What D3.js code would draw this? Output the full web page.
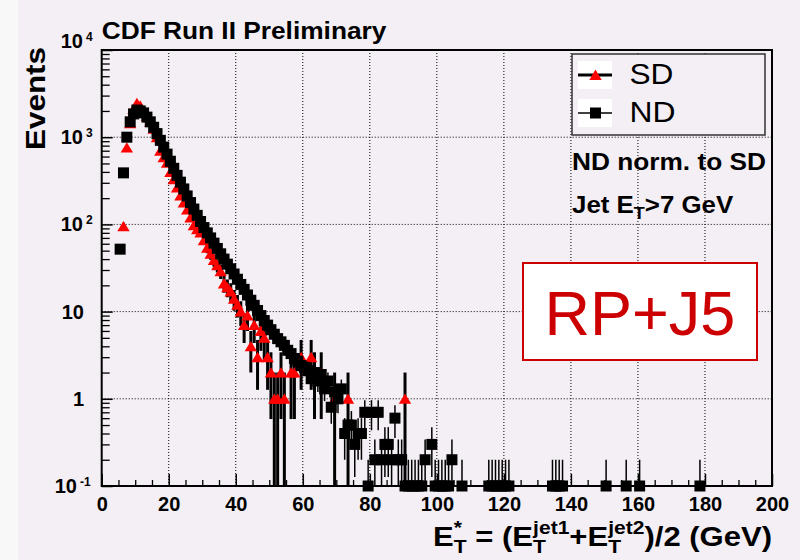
<!DOCTYPE html>
<html><head><meta charset="utf-8">
<script src="https://cdn.jsdelivr.net/npm/d3@7/dist/d3.min.js"></script>
<style>
html,body{margin:0;padding:0;background:#f4eff4;}
svg{display:block;}
text{font-family:"Liberation Sans",Arial,Helvetica,sans-serif;}
</style></head><body>
<svg id="c" width="800" height="560"></svg>
<script>
// ---------------- data (1 GeV bins, low edge) ----------------
const ndBinLow = [5,6,7,8,9,10,11,12,13,14,15,16,17,18,19,20,21,22,23,24,25,26,27,28,29,30,31,32,33,34,35,36,37,38,39,40,41,42,43,44,45,46,47,48,49,50,51,52,53,54,55,56,57,58,59,60,61,62,63,64,65,66,67,68,69,70,71,72,73,74,75,76,77,78,79,80,81,82,83,84,85,86,87,88,89,90,91,92,93,94,95,96,98,99,100,101,102,103,104,107,115,116,117,118,119,120,121,134,135,136,137,150,156,160,178];
const ndValues = [52,390,1000,1500,1850,2050,2000,1900,1700,1500,1300,1100,920,770,640,530,440,365,305,255,212,178,150,127,108,92,80,70,61,53,46,40,35,31,27,23.5,20.5,18,15.5,13.5,11.8,10.3,9,7.9,7,6.2,5.5,4.9,4.5,4.1,3.6,3.3,2.9,2.7,2.4,2.3,2.1,1.7,2.0,1.6,1.9,1.3,1.6,0.8,1.2,1.0,1.3,0.4,0.5,0.5,0.3,0.4,0.4,0.7,0.1,0.7,0.2,0.7,0.2,0.3,0.3,0.2,0.6,0.2,0.2,0.1,0.1,0.1,0.1,0.1,0.1,0.2,0.3,0.1,0.1,0.1,0.1,0.1,0.2,0.1,0.1,0.1,0.1,0.1,0.1,0.1,0.1,0.1,0.1,0.1,0.1,0.1,0.1,0.1,0.1];
const ndWeight = 0.1; // ND events are scaled to SD: one ND event = 0.1

const sdBinLow = [6,7,8,9,10,11,12,13,14,15,16,17,18,19,20,21,22,23,24,25,26,27,28,29,30,31,32,33,34,35,36,37,38,39,40,41,42,43,44,45,46,47,48,49,50,51,52,53,54,56,57,59,62,63,65,69,73,90];
const sdValues = [95,760,1450,2100,2450,2300,1950,1750,1500,1250,1000,700,590,510,400,330,265,215,178,148,120,98,88,81,66,54,46,39,34,29,21,19,17,14,12,10,7,9,4,7,3,6,5,3,2,1,1,2,1,2,2,3,3,2,2,1,1,1];

const xDomain = [0,200];
const yDomain = [0.1,10000];
const xTickValues = [0,20,40,60,80,100,120,140,160,180,200];
const yTickValues = [0.1,1,10,100,1000,10000];
const yTickBase = ["10","1","10","10","10","10"];
const yTickExp  = ["-1","","","2","3","4"];
const legendLabels = ["SD","ND"];
const titleText = "CDF Run II Preliminary";
const yTitle = "Events";
const noteLine1 = "ND norm. to SD";
const tagText = "RP+J5";

// ---------------- layout ----------------
const W = 800, H = 560;
const m = {l:101.7, r:772, t:50, b:486};
const FONT = "Liberation Sans, Arial, Helvetica, sans-serif";
const x = d3.scaleLinear().domain(xDomain).range([m.l, m.r]);
const y = d3.scaleLog().domain(yDomain).range([m.b, m.t]);

const svg = d3.select("#c");
svg.append("rect").attr("width",W).attr("height",H).attr("fill","#f4eff4");
svg.append("rect").attr("width",18).attr("height",H).attr("fill","#f9f8f9");

svg.append("defs").append("clipPath").attr("id","plotclip")
  .append("rect").attr("x",m.l).attr("y",m.t).attr("width",m.r-m.l).attr("height",m.b-m.t);

// grid
const grid = svg.append("g").attr("stroke","#000").attr("stroke-width",1).attr("stroke-dasharray","1,2");
grid.selectAll("line.gx").data(xTickValues.filter(v=>v>xDomain[0]&&v<xDomain[1])).join("line").attr("class","gx")
  .attr("x1",d=>x(d)).attr("x2",d=>x(d)).attr("y1",m.t).attr("y2",m.b);
grid.selectAll("line.gy").data(yTickValues.filter(v=>v>yDomain[0]&&v<yDomain[1])).join("line").attr("class","gy")
  .attr("y1",d=>y(d)).attr("y2",d=>y(d)).attr("x1",m.l).attr("x2",m.r);

// helper for stretched text
function fitGroup(parent, tx, ty, rot, target){
  const outer = parent.append("g").attr("transform",`translate(${tx},${ty})${rot?` rotate(${rot})`:""}`);
  const inner = outer.append("g");
  return {inner, fit(){ const w = inner.node().getBBox().width; if(w>0) inner.attr("transform",`scale(${target/w},1)`); }};
}

// ---------------- data ----------------
const sd = sdBinLow.map((b,i)=>({c:b+0.5, v:sdValues[i], e:Math.sqrt(sdValues[i])}));
const nd = ndBinLow.map((b,i)=>({c:b+0.5, v:ndValues[i], e:Math.sqrt(ndValues[i]*ndWeight)}));
const yc = v => y(Math.max(v, yDomain[0]));

const gSD = svg.append("g");
gSD.append("g").attr("clip-path","url(#plotclip)").selectAll("line").data(sd).join("line")
  .attr("x1",d=>x(d.c)).attr("x2",d=>x(d.c)).attr("y1",d=>yc(d.v-d.e)).attr("y2",d=>yc(d.v+d.e))
  .attr("stroke","#000").attr("stroke-width",3);
const triPath = "M0,-5.4L6.2,5L-6.2,5Z";
gSD.selectAll("path").data(sd).join("path")
  .attr("d",triPath).attr("transform",d=>`translate(${x(d.c)},${y(d.v)})`).attr("fill","#ff0000");

const gND = svg.append("g");
gND.append("g").attr("clip-path","url(#plotclip)").selectAll("line").data(nd).join("line")
  .attr("x1",d=>x(d.c)).attr("x2",d=>x(d.c)).attr("y1",d=>yc(d.v-d.e)).attr("y2",d=>yc(d.v+d.e))
  .attr("stroke","#000").attr("stroke-width",1.5);
gND.selectAll("rect").data(nd).join("rect")
  .attr("x",d=>x(d.c)-5.5).attr("y",d=>y(d.v)-5.5).attr("width",11).attr("height",11).attr("fill","#000");

// ---------------- frame & axes ----------------
svg.append("rect").attr("x",m.l).attr("y",m.t).attr("width",m.r-m.l).attr("height",m.b-m.t)
  .attr("fill","none").attr("stroke","#000").attr("stroke-width",2);

const xMinor = d3.range(xDomain[0], xDomain[1]+1, 5).filter(v=>v%20!==0);
const gxm = svg.append("g").attr("transform",`translate(0,${m.b})`)
  .call(d3.axisBottom(x).tickValues(xMinor).tickSize(-6).tickFormat(""));
gxm.select(".domain").remove();
gxm.selectAll(".tick line").attr("stroke","#000").attr("stroke-width",1.3);

const gx = svg.append("g").attr("transform",`translate(0,${m.b})`)
  .call(d3.axisBottom(x).tickValues(xTickValues).tickSize(-12).tickFormat(d3.format("d")));
gx.select(".domain").remove();
gx.attr("font-family",FONT).attr("font-size",20).attr("font-weight","bold");
gx.selectAll(".tick line").attr("stroke","#000").attr("stroke-width",1.5);
gx.selectAll(".tick text").attr("y",25).attr("dy",0).attr("fill","#000");

const yMinor = [];
yTickValues.slice(0,-1).forEach(d=>{ for(let k=2;k<10;k++) yMinor.push(d*k); });
const gym = svg.append("g").attr("transform",`translate(${m.l},0)`)
  .call(d3.axisLeft(y).tickValues(yMinor).tickSize(-8).tickFormat(""));
gym.select(".domain").remove();
gym.selectAll(".tick line").attr("stroke","#000").attr("stroke-width",1.3);
const gy = svg.append("g").attr("transform",`translate(${m.l},0)`)
  .call(d3.axisLeft(y).tickValues(yTickValues).tickSize(-11).tickFormat(""));
gy.select(".domain").remove();
gy.selectAll(".tick line").attr("stroke","#000").attr("stroke-width",1.5);

// y tick labels (base + exponent)
const yl = svg.append("g").attr("font-family",FONT).attr("font-weight","bold").attr("fill","#000");
yTickValues.forEach((v,i)=>{
  const exp = yTickExp[i];
  const shift = (v===yDomain[1]) ? -9 : 0;
  const baseEnd = exp ? (exp.startsWith("-") ? 77 : 83) : 84;
  const by = y(v) + 7 + shift;
  yl.append("text").attr("x",baseEnd).attr("y",by).attr("text-anchor","end").attr("font-size",20).text(yTickBase[i]);
  if(exp) yl.append("text").attr("x",baseEnd+3).attr("y",by-7).attr("font-size",12).text(exp);
});

// ---------------- titles ----------------
const t1 = fitGroup(svg, m.l, 38.5, 0, 285);
t1.inner.append("text").attr("font-size",23).attr("font-weight","bold").attr("fill","#000").text(titleText);
t1.fit();

const t2 = fitGroup(svg, 45, 47, -90, 103);
t2.inner.append("text").attr("text-anchor","end").attr("font-size",28).attr("font-weight","bold").attr("fill","#000").text(yTitle);
t2.fit();

// x title: E*_T = (E^jet1_T+E^jet2_T)/2 (GeV)
const t3 = fitGroup(svg, m.r, 546, 0, 339);
const xt = t3.inner.append("text").attr("text-anchor","end").attr("font-size",28).attr("font-weight","bold").attr("fill","#000");
const SUB = 19;
xt.append("tspan").text("E");
xt.append("tspan").attr("font-size",SUB).attr("dy",-12).text("*");
xt.append("tspan").attr("font-size",SUB).attr("dx",-7.4).attr("dy",19).text("T");
xt.append("tspan").attr("dy",-7).text(" = (E");
xt.append("tspan").attr("font-size",SUB).attr("dy",7).text("T");
xt.append("tspan").attr("font-size",SUB).attr("dx",-11.6).attr("dy",-19).text("jet1");
xt.append("tspan").attr("dy",12).text("+E");
xt.append("tspan").attr("font-size",SUB).attr("dy",7).text("T");
xt.append("tspan").attr("font-size",SUB).attr("dx",-11.6).attr("dy",-19).text("jet2");
xt.append("tspan").attr("dy",12).text(")/2 (GeV)");
t3.fit();

// ---------------- legend ----------------
const lg = svg.append("g");
lg.append("rect").attr("x",572).attr("y",54).attr("width",193).attr("height",81)
  .attr("fill","#f4eff4").attr("stroke","#333").attr("stroke-width",1.5);
const entryY = [75, 113];
legendLabels.forEach((lab,i)=>{
  const cy = entryY[i];
  lg.append("rect").attr("x",578).attr("y",cy-14).attr("width",34).attr("height",28).attr("fill","#fff");
  lg.append("line").attr("x1",578).attr("x2",612).attr("y1",cy).attr("y2",cy)
    .attr("stroke","#000").attr("stroke-width", i===0?3:1.5);
  if(i===0) lg.append("path").attr("d",triPath).attr("transform",`translate(595.5,${cy})`).attr("fill","#ff0000");
  else lg.append("rect").attr("x",590).attr("y",cy-5.5).attr("width",11).attr("height",11).attr("fill","#000");
  const lt = fitGroup(lg, 629.5, cy+8.5, 0, i===0?44:46);
  lt.inner.append("text").attr("font-size",29).attr("fill","#000").text(lab);
  lt.fit();
});

// notes
const n1 = fitGroup(svg, 572, 170, 0, 194);
n1.inner.append("text").attr("font-size",23).attr("font-weight","bold").attr("fill","#000").text(noteLine1);
n1.fit();
const n2 = fitGroup(svg, 572, 213, 0, 162);
const n2t = n2.inner.append("text").attr("font-size",23).attr("font-weight","bold").attr("fill","#000");
n2t.append("tspan").text("Jet E");
n2t.append("tspan").attr("font-size",16).attr("dy",6).text("T");
n2t.append("tspan").attr("dy",-6).text(">7 GeV");
n2.fit();

// tag box
svg.append("rect").attr("x",523).attr("y",263).attr("width",234).attr("height",97)
  .attr("fill","#fff").attr("stroke","#cc0000").attr("stroke-width",2);
svg.append("text").attr("x",640).attr("y",335).attr("text-anchor","middle")
  .attr("font-size",63).attr("fill","#cc0000").text(tagText);
</script>
</body></html>
